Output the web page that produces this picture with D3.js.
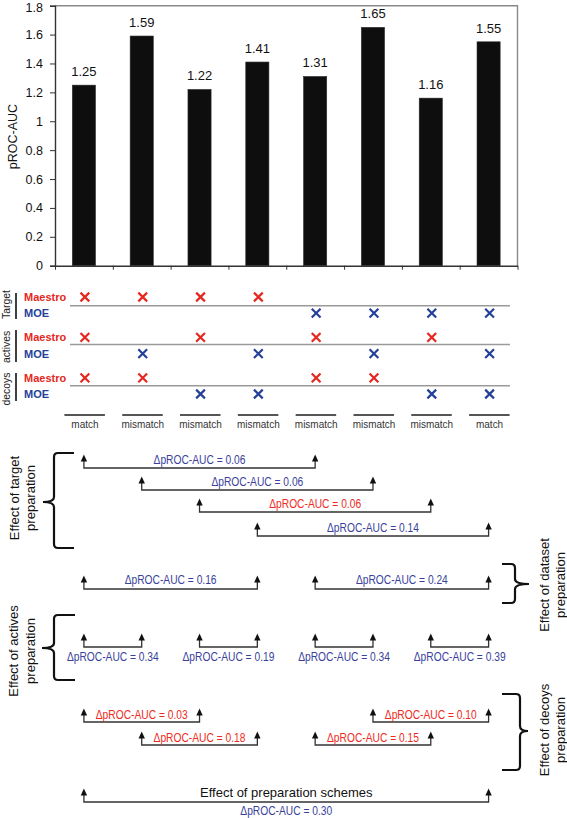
<!DOCTYPE html>
<html>
<head>
<meta charset="utf-8">
<script src="https://cdn.jsdelivr.net/npm/d3@7"></script>
<style>
  html, body { margin: 0; padding: 0; background: #fff; }
  svg { display: block; font-family: "Liberation Sans", Arial, sans-serif; }
</style>
</head>
<body>
<svg id="chart" width="567" height="818"></svg>
<script>
// ---------------- DATA ----------------
const schemes = [0, 1, 2, 3, 4, 5, 6, 7];
const values = [1.25, 1.59, 1.22, 1.41, 1.31, 1.65, 1.16, 1.55];
const yTicks = [0, 0.2, 0.4, 0.6, 0.8, 1, 1.2, 1.4, 1.6, 1.8];
const matchLabels = ["match", "mismatch", "mismatch", "mismatch", "mismatch", "mismatch", "mismatch", "match"];
const componentNames = ["Target", "actives", "decoys"];
const targetPrep = ["Maestro", "Maestro", "Maestro", "Maestro", "MOE", "MOE", "MOE", "MOE"];
const activesPrep = ["Maestro", "MOE", "Maestro", "MOE", "Maestro", "MOE", "Maestro", "MOE"];
const decoysPrep = ["Maestro", "Maestro", "MOE", "MOE", "Maestro", "Maestro", "MOE", "MOE"];

const targetPairs = [[0, 4], [1, 5], [2, 6], [3, 7]];
const targetDeltas = ["0.06", "0.06", "0.06", "0.14"];
const targetBetter = ["MOE", "MOE", "Maestro", "MOE"];

const datasetPairs = [[0, 3], [4, 7]];
const datasetDeltas = ["0.16", "0.24"];
const datasetBetter = ["MOE", "MOE"];

const activesPairs = [[0, 1], [2, 3], [4, 5], [6, 7]];
const activesDeltas = ["0.34", "0.19", "0.34", "0.39"];
const activesBetter = ["MOE", "MOE", "MOE", "MOE"];

const decoysPairs = [[0, 2], [5, 7], [1, 3], [4, 6]];
const decoysDeltas = ["0.03", "0.10", "0.18", "0.15"];
const decoysBetter = ["Maestro", "Maestro", "Maestro", "Maestro"];

const schemePairs = [[0, 7]];
const schemeDeltas = ["0.30"];
const schemeBetter = ["MOE"];

// ---------------- STYLE / LAYOUT ----------------
const RED = "#ee2a22";
const BLUE = "#3a3f9c";
const RED_M = "#e52720";
const BLUE_M = "#24409a";
const progColor = p => (p === "Maestro" ? RED : BLUE);

const svg = d3.select("#chart");
const plot = { left: 55, right: 517.5, top: 5.7, bottom: 265.7 };

const x = d3.scaleBand().domain(schemes)
  .range([plot.left, plot.right]).paddingInner(0.6).paddingOuter(0.3);
const cx = i => x(i) + x.bandwidth() / 2;
const y = d3.scaleLinear().domain([0, 1.8]).range([plot.bottom, plot.top]);
const xEdges = d3.scaleLinear().domain([0, 8]).range([plot.left, plot.right]);

// frame (top & right)
svg.append("path")
  .attr("d", `M${plot.left},${plot.top} H${plot.right} V${plot.bottom}`)
  .attr("fill", "none").attr("stroke", "#8a8a8a").attr("stroke-width", 1.4);

// bars
svg.append("g").selectAll("rect").data(values).join("rect")
  .attr("x", (d, i) => x(i))
  .attr("y", d => y(d))
  .attr("width", x.bandwidth())
  .attr("height", d => y(0) - y(d))
  .attr("fill", "#0e0e0e")
  .attr("stroke", "#2a2a2a").attr("stroke-width", 0.6);

// value labels
svg.append("g").selectAll("text").data(values).join("text")
  .attr("x", (d, i) => cx(i))
  .attr("y", d => y(d) - 9)
  .attr("text-anchor", "middle")
  .attr("font-size", 13).attr("fill", "#111")
  .text(d => d.toFixed(2));

// y axis
const yAxis = svg.append("g").attr("transform", `translate(${plot.left},0)`)
  .call(d3.axisLeft(y).tickValues(yTicks).tickSize(5).tickPadding(7).tickFormat(d => String(d)));
yAxis.selectAll("text").attr("font-size", 12.5).attr("fill", "#111")
  .attr("dy", d => (d === 1.8 ? "0.5em" : "0.32em"))
  .attr("font-family", "Liberation Sans, Arial, sans-serif");
yAxis.select(".domain").attr("stroke", "#333").attr("stroke-width", 1.4);
yAxis.selectAll(".tick line").attr("stroke", "#333");

// x axis (boundaries)
const xAxis = svg.append("g").attr("transform", `translate(0,${plot.bottom})`)
  .call(d3.axisBottom(xEdges).ticks(8).tickSize(4).tickSizeOuter(0).tickFormat(""));
xAxis.select(".domain").attr("stroke", "#333").attr("stroke-width", 1.6);
xAxis.selectAll(".tick line").attr("stroke", "#333");

// y title
svg.append("text")
  .attr("transform", "translate(12.5,136.5) rotate(-90)")
  .attr("text-anchor", "middle").attr("dominant-baseline", "central")
  .attr("font-size", 12.5).attr("fill", "#111")
  .text("pROC-AUC");

// ---------------- preparation matrix ----------------
const prepRows = [targetPrep, activesPrep, decoysPrep];
const groupTop = [297, 337.4, 377.8];
const rowLineY = [305.7, 344.5, 385.8];
const labelSpan = [[293, 319], [330, 362], [373, 401]];
const groupLabelY = [304.5, 347, 389];

prepRows.forEach((row, g) => {
  const gg = svg.append("g");
  const maestroY = groupTop[g];
  const moeY = groupTop[g] + 16.2;
  gg.append("text")
    .attr("transform", `translate(6,${groupLabelY[g]}) rotate(-90) scale(0.9,1)`)
    .attr("text-anchor", "middle").attr("dominant-baseline", "central")
    .attr("font-size", 11.5).attr("fill", "#222")
    .text(componentNames[g]);
  gg.append("line")
    .attr("x1", 16).attr("x2", 16)
    .attr("y1", labelSpan[g][0]).attr("y2", labelSpan[g][1])
    .attr("stroke", "#111").attr("stroke-width", 1.6);
  gg.append("text").attr("x", 24).attr("y", maestroY + 4)
    .attr("font-size", 11).attr("font-weight", "bold").attr("fill", RED_M)
    .text("Maestro");
  gg.append("text").attr("x", 24).attr("y", moeY + 4)
    .attr("font-size", 11).attr("font-weight", "bold").attr("fill", BLUE_M)
    .text("MOE");
  gg.append("line")
    .attr("x1", 70).attr("x2", 510)
    .attr("y1", rowLineY[g]).attr("y2", rowLineY[g])
    .attr("stroke", "#9a9a9a").attr("stroke-width", 1.5);
  gg.selectAll("path.mark").data(row).join("path")
    .attr("class", "mark")
    .attr("transform", (d, i) => `translate(${cx(i) + 1},${d === "Maestro" ? maestroY : moeY})`)
    .attr("d", d3.symbol(d3.symbolTimes, 52))
    .attr("fill", "none")
    .attr("stroke", d => (d === "Maestro" ? RED_M : BLUE_M))
    .attr("stroke-width", 2.2);
});

// match / mismatch labels
const mg = svg.append("g");
mg.selectAll("line").data(matchLabels).join("line")
  .attr("x1", (d, i) => cx(i) - 19.5).attr("x2", (d, i) => cx(i) + 21)
  .attr("y1", 415).attr("y2", 415)
  .attr("stroke", "#555").attr("stroke-width", 2);
mg.selectAll("text").data(matchLabels).join("text")
  .attr("transform", (d, i) => `translate(${cx(i) + 1},428) scale(0.95,1)`)
  .attr("text-anchor", "middle")
  .attr("font-size", 10.5).attr("fill", "#333")
  .text(d => d);

// ---------------- comparison brackets ----------------
function drawArrowBracket(i, j, lineY, color, label, textDy) {
  const x1 = cx(i), x2 = cx(j);
  const g = svg.append("g");
  const stroke = "#333";
  g.append("path")
    .attr("d", `M${x1},${lineY - 8} V${lineY} H${x2} V${lineY - 8}`)
    .attr("fill", "none").attr("stroke", stroke).attr("stroke-width", 1.3);
  [x1, x2].forEach(ax => {
    g.append("path")
      .attr("d", `M${ax},${lineY - 13.5} L${ax - 3.2},${lineY - 6.5} L${ax + 3.2},${lineY - 6.5} Z`)
      .attr("fill", "#111");
  });
  g.append("text")
    .attr("transform", `translate(${(x1 + x2) / 2},${lineY + textDy}) scale(0.84,1)`)
    .attr("text-anchor", "middle")
    .attr("font-size", 12.2).attr("fill", color)
    .text("\u0394pROC-AUC = " + label);
}

const targetLineY = [468, 490, 512, 536];
targetPairs.forEach((p, k) => drawArrowBracket(p[0], p[1], targetLineY[k], progColor(targetBetter[k]), targetDeltas[k], -4));
datasetPairs.forEach((p, k) => drawArrowBracket(p[0], p[1], 589, progColor(datasetBetter[k]), datasetDeltas[k], -5));
activesPairs.forEach((p, k) => drawArrowBracket(p[0], p[1], 647, progColor(activesBetter[k]), activesDeltas[k], 14));
const decoysLineY = [722, 722, 745, 745];
decoysPairs.forEach((p, k) => drawArrowBracket(p[0], p[1], decoysLineY[k], progColor(decoysBetter[k]), decoysDeltas[k], -3));
schemePairs.forEach((p, k) => drawArrowBracket(p[0], p[1], 802, progColor(schemeBetter[k]), schemeDeltas[k], 13));

svg.append("text")
  .attr("x", (cx(0) + cx(7)) / 2).attr("y", 797)
  .attr("text-anchor", "middle").attr("font-size", 13).attr("fill", "#111")
  .text("Effect of preparation schemes");

// ---------------- curly braces & effect titles ----------------
function leftBrace(top, bot, mid, xv, tip, xe) {
  return `M${xe},${top} L${xv + 4},${top} Q${xv},${top} ${xv},${top + 4} L${xv},${mid - 5} Q${xv},${mid} ${tip},${mid} Q${xv},${mid} ${xv},${mid + 5} L${xv},${bot - 4} Q${xv},${bot} ${xv + 4},${bot} L${xe},${bot}`;
}
function rightBrace(top, bot, mid, xv, tip, xe) {
  return `M${xe},${top} L${xv - 4},${top} Q${xv},${top} ${xv},${top + 4} L${xv},${mid - 5} Q${xv},${mid} ${tip},${mid} Q${xv},${mid} ${xv},${mid + 5} L${xv},${bot - 4} Q${xv},${bot} ${xv - 4},${bot} L${xe},${bot}`;
}
const braceG = svg.append("g").attr("fill", "none").attr("stroke", "#111").attr("stroke-width", 2.2);
braceG.append("path").attr("d", leftBrace(453, 548, 502, 54, 43, 74));
braceG.append("path").attr("d", leftBrace(615, 680, 648, 54, 42, 75));
braceG.append("path").attr("d", rightBrace(564, 603, 584, 515, 529, 502));
braceG.append("path").attr("d", rightBrace(694, 770, 731, 520, 528, 502));

function effectTitle(x1, x2, yc, line1) {
  const g = svg.append("g").attr("font-size", 13).attr("fill", "#111");
  g.append("text")
    .attr("transform", `translate(${x1},${yc}) rotate(-90)`)
    .attr("text-anchor", "middle").attr("dominant-baseline", "central")
    .text(line1);
  g.append("text")
    .attr("transform", `translate(${x2},${yc}) rotate(-90)`)
    .attr("text-anchor", "middle").attr("dominant-baseline", "central")
    .text("preparation");
}
effectTitle(14, 30, 498, "Effect of target");
effectTitle(13, 30, 651, "Effect of actives");
effectTitle(544, 560, 585, "Effect of dataset");
effectTitle(544, 560, 730, "Effect of decoys");
</script>
</body>
</html>
